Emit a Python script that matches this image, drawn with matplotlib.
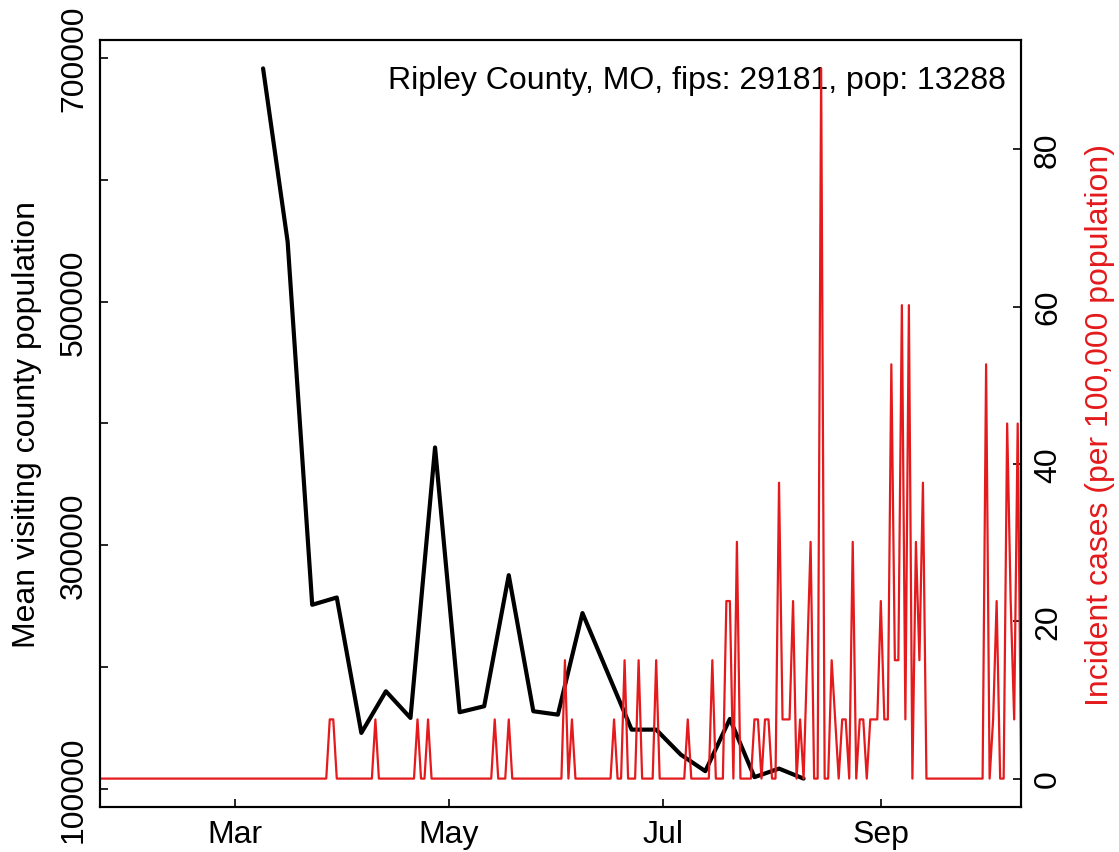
import numpy as np
import pandas as pd
import matplotlib
matplotlib.use("Agg")
import matplotlib.pyplot as plt
import matplotlib.dates as mdates

plt.rcParams['font.family'] = ['Liberation Sans', 'DejaVu Sans']

# ---------------- data ----------------
title_text = "Ripley County, MO, fips: 29181, pop: 13288"
population = 13288

# weekly mean visiting county population (black line)
visit_dates = ["2020-03-09", "2020-03-16", "2020-03-23", "2020-03-30", "2020-04-06",
               "2020-04-13", "2020-04-20", "2020-04-27", "2020-05-04", "2020-05-11",
               "2020-05-18", "2020-05-25", "2020-06-01", "2020-06-08", "2020-06-22",
               "2020-06-29", "2020-07-06", "2020-07-13", "2020-07-20", "2020-07-27",
               "2020-08-03", "2020-08-10"]
visit_values = [691500, 549200, 251100, 257100, 145900,
                180100, 158200, 380300, 162900, 167800,
                275400, 163700, 160900, 244300, 148600,
                148600, 128100, 114500, 157400, 109600,
                116600, 108400]

# daily incident cases (red line): days with non-zero counts; all other days are 0
case_start = "2020-01-22"
case_end = "2020-10-11"
case_dates = ["2020-03-28", "2020-03-29", "2020-04-10", "2020-04-22", "2020-04-25",
              "2020-05-14", "2020-05-18", "2020-06-03", "2020-06-05", "2020-06-17",
              "2020-06-20", "2020-06-24", "2020-06-29", "2020-07-08", "2020-07-15",
              "2020-07-19", "2020-07-20", "2020-07-22", "2020-07-27", "2020-07-28",
              "2020-07-30", "2020-07-31", "2020-08-03", "2020-08-04", "2020-08-05",
              "2020-08-06", "2020-08-07", "2020-08-09", "2020-08-11", "2020-08-12",
              "2020-08-15", "2020-08-18", "2020-08-19", "2020-08-21", "2020-08-22",
              "2020-08-24", "2020-08-26", "2020-08-27", "2020-08-29", "2020-08-30",
              "2020-08-31", "2020-09-01", "2020-09-02", "2020-09-03", "2020-09-04",
              "2020-09-05", "2020-09-06", "2020-09-07", "2020-09-08", "2020-09-09",
              "2020-09-11", "2020-09-12", "2020-09-13", "2020-10-01", "2020-10-03",
              "2020-10-04", "2020-10-07", "2020-10-08", "2020-10-09", "2020-10-10"]
case_counts = [1, 1, 1, 1, 1,
               1, 1, 2, 1, 1,
               2, 2, 2, 1, 2,
               3, 3, 4, 1, 1,
               1, 1, 5, 1, 1,
               1, 3, 1, 2, 4,
               12, 2, 1, 1, 1,
               4, 1, 1, 1, 1,
               1, 3, 1, 1, 7,
               2, 2, 8, 1, 8,
               4, 2, 5, 7, 1,
               3, 6, 3, 1, 6]

x_tick_dates = ["2020-03-01", "2020-05-01", "2020-07-01", "2020-09-01"]
x_tick_labels = ["Mar", "May", "Jul", "Sep"]
left_ticks = [100000, 200000, 300000, 400000, 500000, 600000, 700000]
left_tick_labels = ["100000", "", "300000", "", "500000", "", "700000"]
right_ticks = [0, 20, 40, 60, 80]

# ---------------- build series ----------------
vd = pd.to_datetime(visit_dates)
vv = np.array(visit_values, dtype=float)

days = pd.date_range(case_start, case_end, freq="D")
cases = pd.Series(0.0, index=days)
cases.loc[pd.to_datetime(case_dates)] = case_counts
incidence = cases.values * 100000.0 / population

RED = "#E41A1C"
FS = 23

fig = plt.figure(figsize=(11.19, 8.53), dpi=100)
ax = fig.add_axes([100 / 1119, 45 / 853, 920.5 / 1119, 767 / 853])
ax2 = ax.twinx()

ax.plot(vd, vv, color="black", lw=3.0, solid_joinstyle="round", solid_capstyle="round")
ax2.plot(days, incidence, color=RED, lw=1.6)

# x range
mar1 = mdates.date2num(pd.Timestamp("2020-03-01"))
ax.set_xlim(mar1 - 38.46, mar1 + 223.8)

# y ranges (R-style 4% padding)
lo, hi = vv.min(), vv.max()
pad = 0.04 * (hi - lo)
ax.set_ylim(lo - pad, hi + pad)
imax = incidence.max()
ax2.set_ylim(-0.04 * imax, imax * 1.04)

ax.set_xticks(pd.to_datetime(x_tick_dates))
ax.set_xticklabels(x_tick_labels)
ax.set_yticks(left_ticks)
ax.set_yticklabels(left_tick_labels)
ax2.set_yticks(right_ticks)
ax2.set_yticklabels([str(t) for t in right_ticks])

ax.tick_params(axis="x", direction="in", length=6, width=1.2, labelsize=FS, pad=9)
ax.tick_params(axis="y", direction="in", length=6, width=1.2, labelsize=FS, pad=8)
ax2.tick_params(axis="y", direction="in", length=6, width=1.2, labelsize=FS, pad=9)
for lab in ax.get_yticklabels():
    lab.set_rotation(90)
    lab.set_va("center")
    lab.set_ha("right")
for lab in ax2.get_yticklabels():
    lab.set_rotation(90)
    lab.set_va("center")
    lab.set_ha("left")

for a in (ax, ax2):
    for s in a.spines.values():
        s.set_linewidth(1.5)

ax.set_ylabel("Mean visiting county population", fontsize=FS, labelpad=12)
ax2.set_ylabel("Incident cases (per 100,000 population)", fontsize=FS, color=RED,
               rotation=90, labelpad=16)

ax.text(0.984, 0.968, title_text, transform=ax.transAxes, ha="right", va="top",
        fontsize=FS)

fig.savefig("out.png", dpi=100)
